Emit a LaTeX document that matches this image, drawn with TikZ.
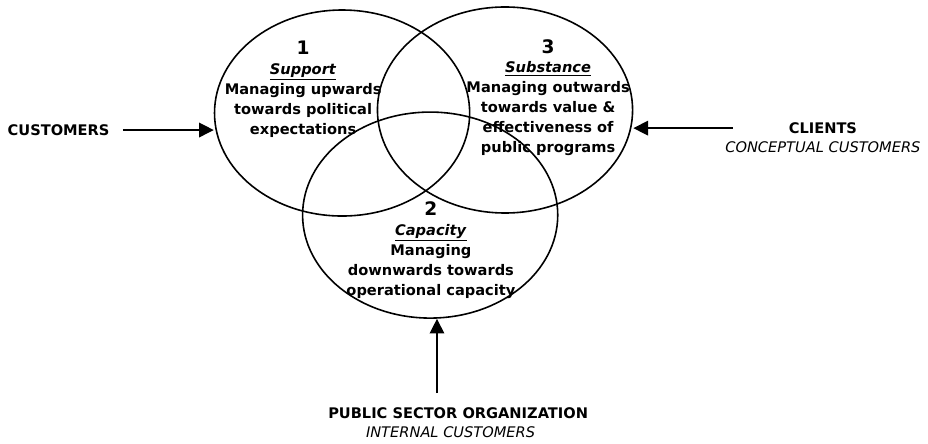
\documentclass[tikz,border=0pt]{standalone}
\usepackage{fontspec}
\setmainfont{DejaVu Sans}
\usetikzlibrary{shapes.geometric,arrows.meta,positioning,calc}

\begin{document}
\begin{tikzpicture}[
    font=\bfseries\fontsize{11}{15}\selectfont,
    venn/.style={draw, ellipse, line width=1.2pt, minimum width=6.75cm,
      minimum height=5.45cm, inner sep=0pt},
    feed/.style={-{Triangle[length=11pt,width=11pt]}, line width=1pt},
    tag/.style={inner sep=0pt}
  ]
  \useasboundingbox (0,0) rectangle (24.55,11.72);
  % three overlapping circles
  \node (support) [venn] at (9.05,8.73) {};
  \node (substance) [venn] at (13.36,8.81) {};
  \node (capacity) [venn] at (11.38,6.03) {};
  % what each one stands for
  \node (supporttext) [tag, align=center] at (8.02,9.36)
    {{\fontsize{14}{17}\selectfont 1}\\ \underline{\textit{Support}}\\
     Managing upwards\\ towards political\\ expectations};
  \node (substancetext) [tag, align=center] at (14.50,9.14)
    {{\fontsize{14}{17}\selectfont 3}\\ \underline{\textit{Substance}}\\
     Managing outwards\\ towards value \&\\ effectiveness of\\ public programs};
  \node (capacitytext) [tag, align=center] at (11.40,5.10)
    {{\fontsize{14}{17}\selectfont 2}\\ \underline{\textit{Capacity}}\\
     Managing\\ downwards towards\\ operational capacity};
  % the three kinds of customers
  \node (customers) [tag] at (1.55,8.28) {CUSTOMERS};
  \node (clients) [tag] at (21.77,8.33) {CLIENTS};
  \node (clientsub) [tag, below=0.2cm of clients]
    {\mdseries\itshape CONCEPTUAL CUSTOMERS};
  \node (org) [tag] at (12.12,0.79) {PUBLIC SECTOR ORGANIZATION};
  \node (orgsub) [tag, below=0.2cm of org, xshift=-0.2cm]
    {\mdseries\itshape INTERNAL CUSTOMERS};
  \coordinate (clienttail) at ([xshift=0.2cm]clientsub.west |- clients);
  \coordinate (orgtail) at (11.56,1.32);
  % Draw arrows
  \draw[feed, shorten <=0.35cm] (customers.east) -- (customers.east -| support.west);
  \draw[feed] (clienttail) -- (clienttail -| substance.east);
  \draw[feed] (orgtail) -- (orgtail |- capacity.south);
\end{tikzpicture}
\end{document}
